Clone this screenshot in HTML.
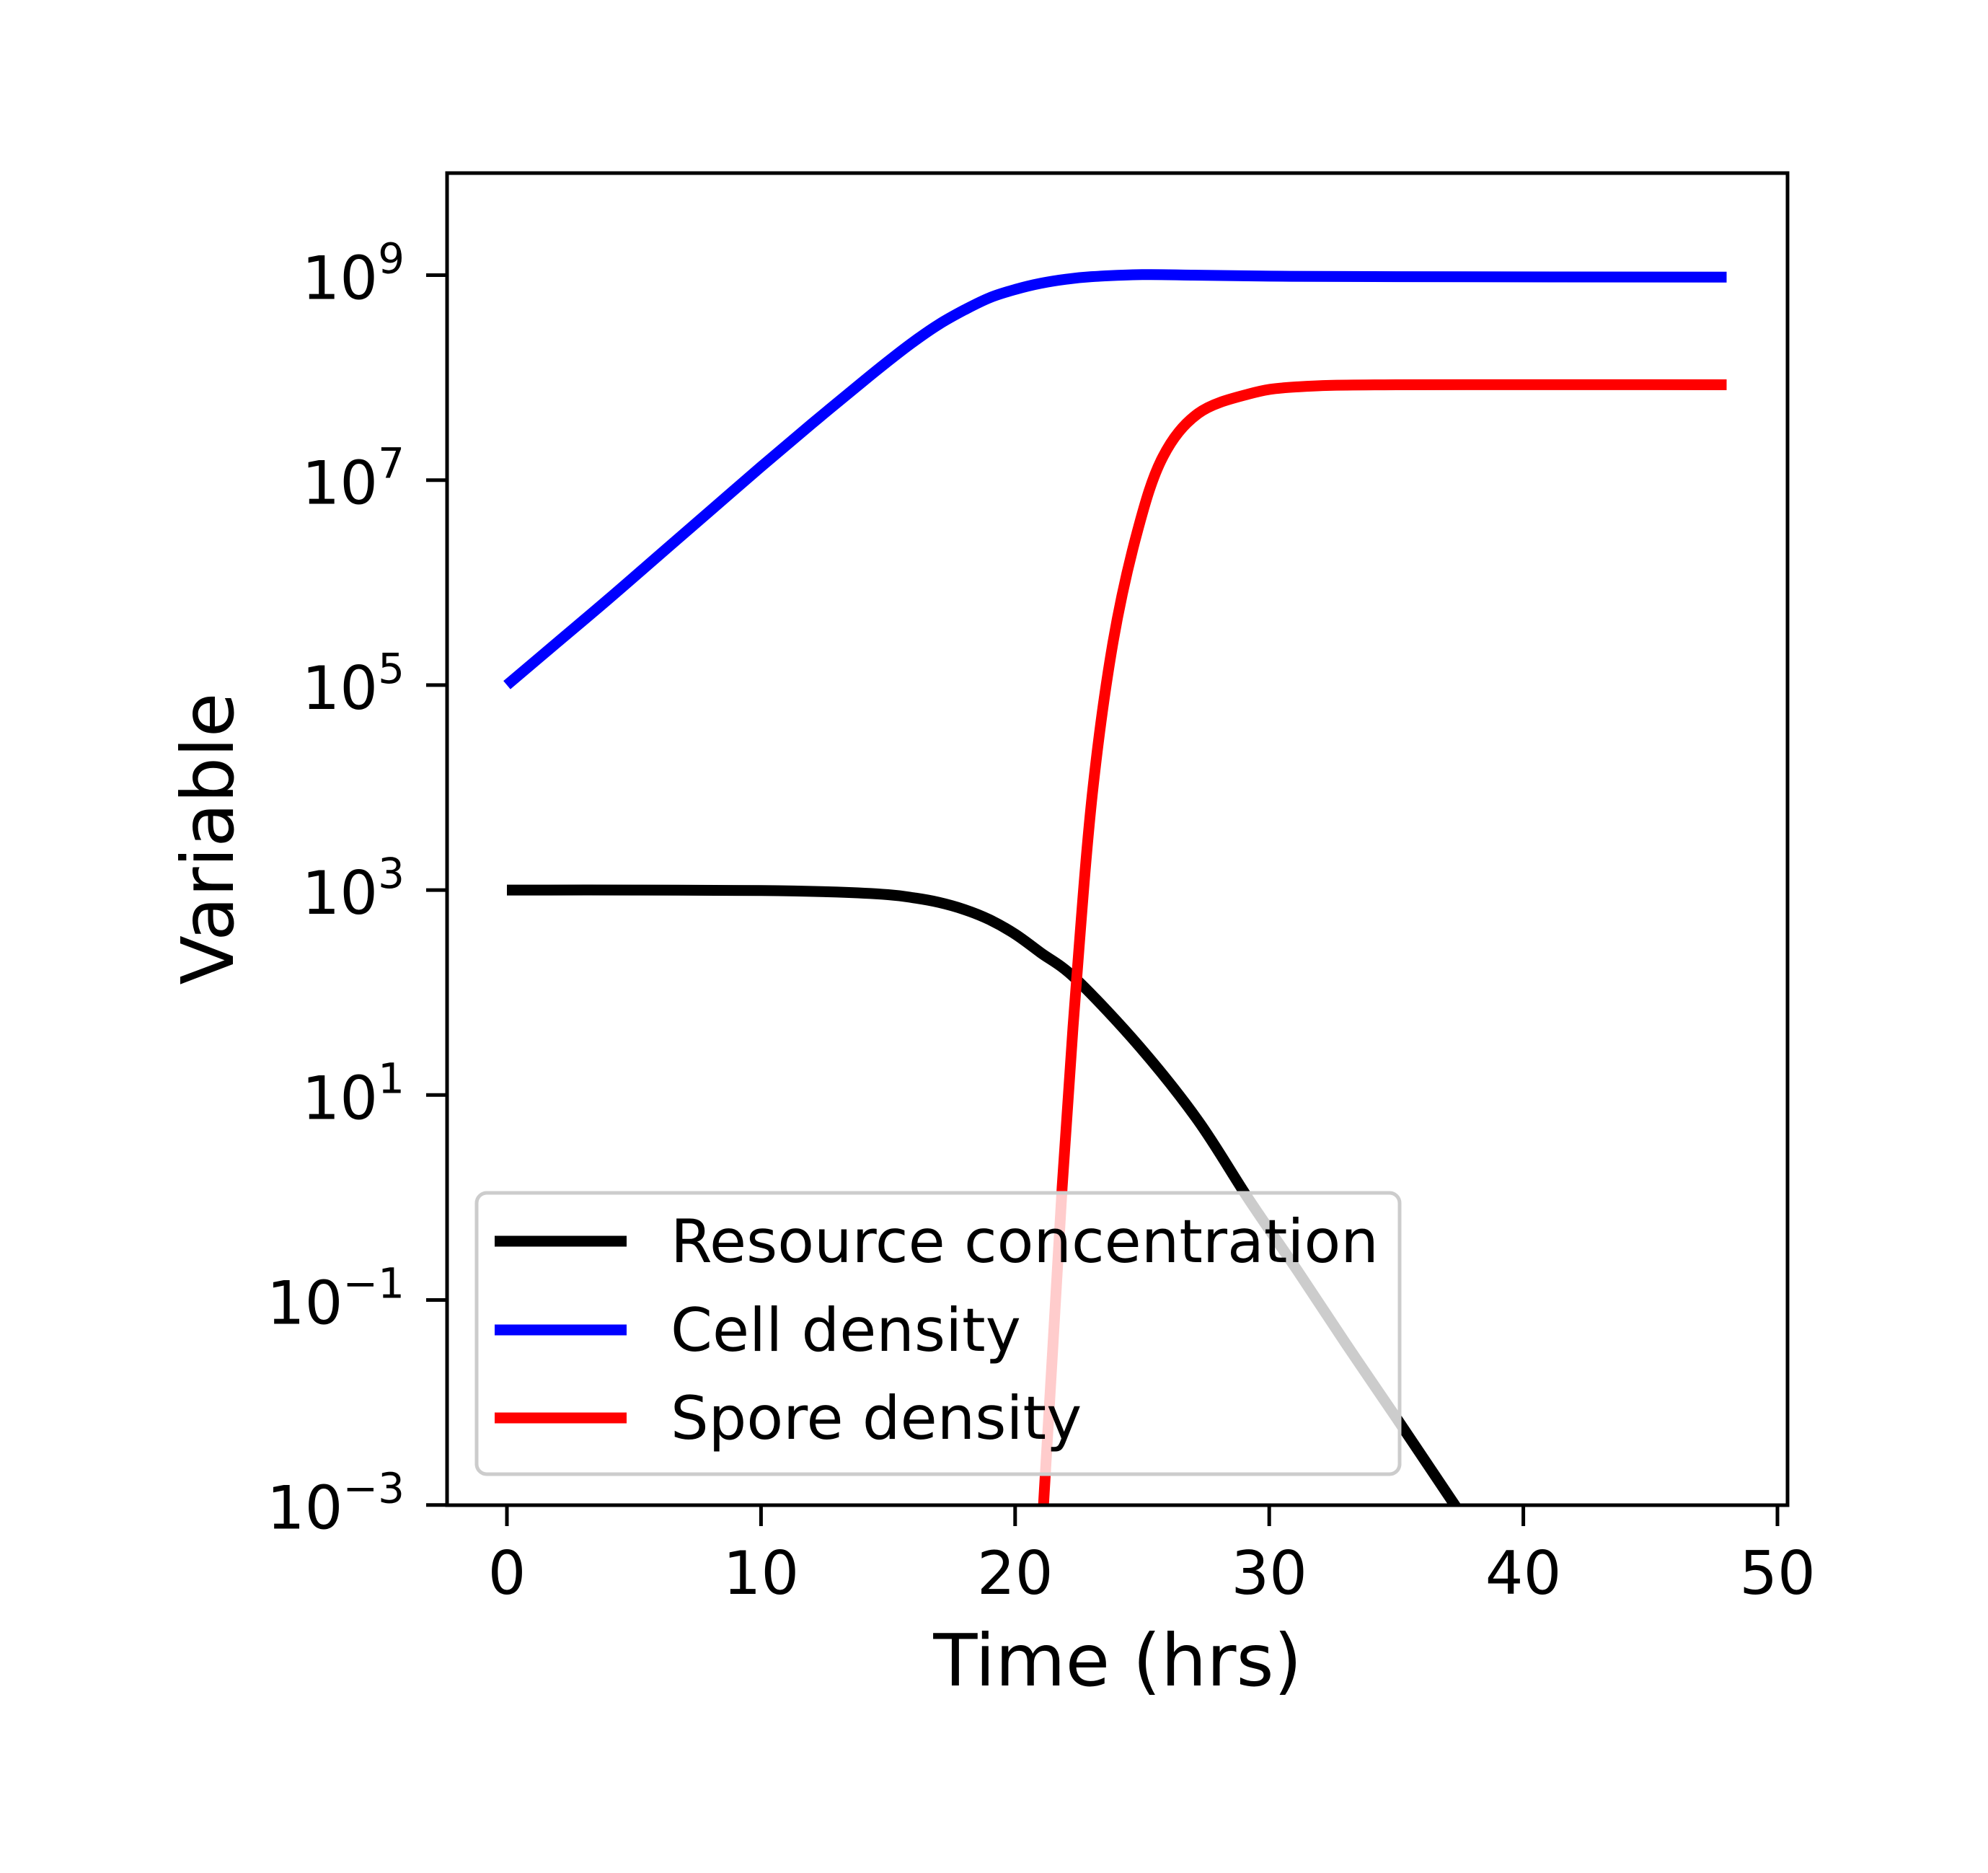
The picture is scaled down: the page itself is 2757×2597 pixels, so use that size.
<!DOCTYPE html>
<html><head><meta charset="utf-8"><style>
html,body{margin:0;padding:0;background:#fff}
svg{display:block}
text{font-family:"DejaVu Sans","Liberation Sans",sans-serif;fill:#000}
</style></head><body>
<svg id="chart" width="2757" height="2597" viewBox="0 0 2757 2597" xmlns="http://www.w3.org/2000/svg">
<defs><clipPath id="plotclip"><rect x="620" y="240" width="1859" height="1847"/></clipPath></defs>
<rect x="0" y="0" width="2757" height="2597" fill="#fff"/>
<g id="series" clip-path="url(#plotclip)"></g>
<rect x="620" y="240" width="1859" height="1847" fill="none" stroke="#000" stroke-width="5"/>
<g id="xticks"></g>
<g id="yticks"></g>
<text x="1550" y="2337" font-size="100" text-anchor="middle">Time (hrs)</text>
<text x="0" y="0" font-size="100" text-anchor="middle" transform="translate(323,1163) rotate(-90)">Variable</text>
<g id="legend">
<rect x="661" y="1654" width="1280" height="390" rx="14" fill="#fff" fill-opacity="0.8" stroke="#cccccc" stroke-width="5"/>
<line x1="686" y1="1721" x2="869" y2="1721" stroke="#000" stroke-width="15"/>
<text x="930" y="1750" font-size="83">Resource concentration</text>
<line x1="686" y1="1844" x2="869" y2="1844" stroke="#0000ff" stroke-width="15"/>
<text x="930" y="1873" font-size="83">Cell density</text>
<line x1="686" y1="1966" x2="869" y2="1966" stroke="#ff0000" stroke-width="15"/>
<text x="930" y="1995" font-size="83">Spore density</text>
</g>
</svg>
<script>
const xTickValues = [0, 10, 20, 30, 40, 50];
const yTickExps = [-3, -1, 1, 3, 5, 7, 9];
const resourceT = [0, 5, 10, 13, 15, 16, 17, 18, 19, 20, 21, 22.4, 24.9, 27.2, 29.2, 31.1, 33, 35, 37.3, 40, 48];
const resourceLog = [3.0, 3.0, 2.995, 2.98, 2.955, 2.925, 2.88, 2.81, 2.71, 2.57, 2.39, 2.13, 1.47, 0.75, -0.02, -0.71, -1.42, -2.15, -3.0, -4.0, -7.0];
const cellT = [0, 2, 4, 6, 8, 10, 12, 14, 15, 16, 17, 18, 19, 20, 21, 22, 23, 25, 27, 30, 35, 48];
const cellLog = [5.0, 5.42, 5.84, 6.27, 6.70, 7.13, 7.55, 7.96, 8.16, 8.35, 8.52, 8.66, 8.78, 8.86, 8.92, 8.96, 8.985, 9.005, 9.0, 8.99, 8.985, 8.98];
const sporeT = [20.5, 21.11, 21.85, 22.42, 23.04, 23.84, 24.8, 25.8, 27.2, 29.2, 31.1, 35, 48];
const sporeLog = [-5.0, -3.03, 0.10, 2.13, 3.94, 5.40, 6.49, 7.22, 7.65, 7.84, 7.91, 7.93, 7.93];

const NS = "http://www.w3.org/2000/svg";
function xScale(t){ return 703 + (t - 0) * 35.24; }
function yScale(lg){ return 381.5 + (9 - lg) * 142.1; }

function drawLine(ts, ls, color, name){
  const pts = ts.map((t,i)=>[xScale(t), yScale(ls[i])]);
  let d = "M" + pts[0][0].toFixed(1) + "," + pts[0][1].toFixed(1);
  for (let i = 0; i < pts.length - 1; i++){
    const p0 = pts[Math.max(0,i-1)], p1 = pts[i], p2 = pts[i+1], p3 = pts[Math.min(pts.length-1,i+2)];
    const c1x = p1[0] + (p2[0]-p0[0])/6, c1y = p1[1] + (p2[1]-p0[1])/6;
    const c2x = p2[0] - (p3[0]-p1[0])/6, c2y = p2[1] - (p3[1]-p1[1])/6;
    d += "C" + c1x.toFixed(1) + "," + c1y.toFixed(1) + " " + c2x.toFixed(1) + "," + c2y.toFixed(1) + " " + p2[0].toFixed(1) + "," + p2[1].toFixed(1);
  }
  const p = document.createElementNS(NS, "path");
  p.setAttribute("d", d);
  p.setAttribute("fill", "none");
  p.setAttribute("stroke", color);
  p.setAttribute("stroke-width", "15");
  p.setAttribute("stroke-linejoin", "round");
  
  
  document.getElementById("series").appendChild(p);
}
drawLine(resourceT, resourceLog, "#000000", "resource-line");
drawLine(cellT, cellLog, "#0000ff", "cell-density-line");
drawLine(sporeT, sporeLog, "#ff0000", "spore-density-line");

const xg = document.getElementById("xticks");
xTickValues.forEach(v=>{
  const x = xScale(v);
  const l = document.createElementNS(NS, "line");
  l.setAttribute("x1", x); l.setAttribute("x2", x);
  l.setAttribute("y1", 2087); l.setAttribute("y2", 2116);
  l.setAttribute("stroke", "#000"); l.setAttribute("stroke-width", "5");
  
  
  xg.appendChild(l);
  const t = document.createElementNS(NS, "text");
  t.setAttribute("x", x); t.setAttribute("y", 2210);
  t.setAttribute("font-size", "83"); t.setAttribute("text-anchor", "middle");
  t.textContent = String(v);
  
  
  xg.appendChild(t);
});

const yg = document.getElementById("yticks");
yTickExps.forEach(e=>{
  const y = yScale(e);
  const l = document.createElementNS(NS, "line");
  l.setAttribute("x1", 591); l.setAttribute("x2", 620);
  l.setAttribute("y1", y); l.setAttribute("y2", y);
  l.setAttribute("stroke", "#000"); l.setAttribute("stroke-width", "5");
  
  
  yg.appendChild(l);
  const t = document.createElementNS(NS, "text");
  t.setAttribute("x", 561); t.setAttribute("y", y + 33);
  t.setAttribute("font-size", "83"); t.setAttribute("text-anchor", "end");
  const base = document.createElementNS(NS, "tspan");
  base.textContent = "10";
  const sup = document.createElementNS(NS, "tspan");
  sup.setAttribute("font-size", "58");
  sup.setAttribute("dy", "-36");
  sup.textContent = e < 0 ? "\u2212" + Math.abs(e) : String(e);
  t.appendChild(base); t.appendChild(sup);
  
  
  yg.appendChild(t);
});
</script>
</body></html>
